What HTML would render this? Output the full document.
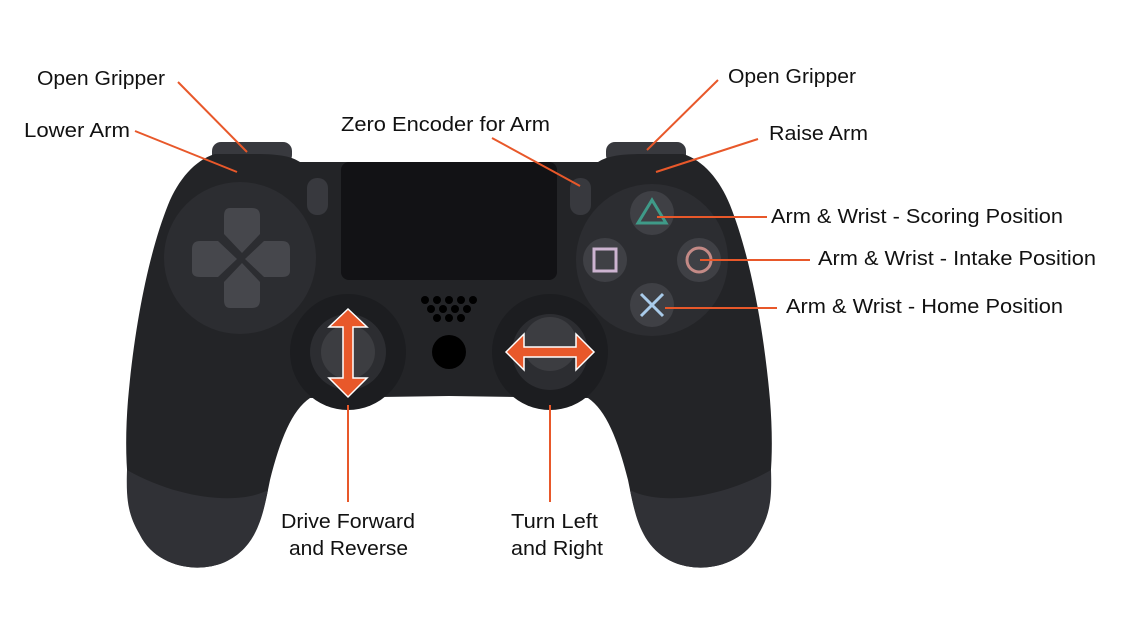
<!DOCTYPE html>
<html><head><style>
html,body{margin:0;padding:0;background:#fff;}
svg{display:block;}
text{font-family:"Liberation Sans",sans-serif;font-size:20px;fill:#111;}
</style></head><body>
<svg width="1128" height="622" viewBox="0 0 1128 622" xmlns="http://www.w3.org/2000/svg">
<defs>
<g id="half">
<rect x="212" y="142" width="80" height="22" rx="9" fill="#38393e"/>
<path d="M449,162 L300,162 C292,157 282,154 255,154 L215,154 C195,160 178,180 168,205 C150,250 135,320 128,400 C124,450 126,500 140,535 C155,565 195,575 225,562 C255,548 262,520 270,480 C280,440 292,410 310,398 L449,396 Z" fill="#232427"/>
<path d="M127,470 C126,500 128,515 140,535 C155,565 195,575 225,562 C255,548 262,520 268,490 C240,505 180,500 127,470 Z" fill="#303136"/>
<rect x="307" y="178" width="21" height="37" rx="10" fill="#38393e"/>
</g>
</defs>
<use href="#half"/>
<use href="#half" transform="translate(898,0) scale(-1,1)"/>
<rect x="341" y="162" width="216" height="118" rx="8" fill="#121215"/>
<circle cx="240" cy="258" r="76" fill="#2c2d31"/>
<g fill="#46474c">
<path d="M230,208 h22 q8,0 8,8 v18 l-18,19 l-18,-19 v-18 q0,-8 6,-8z"/>
<path d="M230,308 h22 q8,0 8,-8 v-18 l-18,-19 l-18,19 v18 q0,8 6,8z"/>
<path d="M192,249 v22 q0,6 8,6 h18 l19,-18 l-19,-18 h-18 q-8,0 -8,8z"/>
<path d="M290,249 v22 q0,6 -8,6 h-18 l-19,-18 l19,-18 h18 q8,0 8,8z"/>
</g>
<circle cx="652" cy="260" r="76" fill="#2c2d31"/>
<g fill="#3f4045">
<circle cx="652" cy="213" r="22"/><circle cx="605" cy="260" r="22"/>
<circle cx="699" cy="260" r="22"/><circle cx="652" cy="305" r="22"/>
</g>
<polygon points="652,200 666,223 638,223" fill="none" stroke="#3f9a88" stroke-width="3"/>
<rect x="594" y="249" width="22" height="22" fill="none" stroke="#cdb4d1" stroke-width="3"/>
<circle cx="699" cy="260" r="12" fill="none" stroke="#c48a86" stroke-width="3"/>
<path d="M641,294 L663,316 M663,294 L641,316" stroke="#a9cbea" stroke-width="3"/>
<circle cx="348" cy="352" r="58" fill="#1c1d20"/><circle cx="348" cy="352" r="38" fill="#2c2d31"/><circle cx="348" cy="352" r="27" fill="#3c3d41"/>
<circle cx="550" cy="352" r="58" fill="#1c1d20"/><circle cx="550" cy="352" r="38" fill="#2c2d31"/><circle cx="550" cy="344" r="27" fill="#3c3d41"/>
<g fill="#000">
<circle cx="425" cy="300" r="4"/><circle cx="437" cy="300" r="4"/><circle cx="449" cy="300" r="4"/><circle cx="461" cy="300" r="4"/><circle cx="473" cy="300" r="4"/>
<circle cx="431" cy="309" r="4"/><circle cx="443" cy="309" r="4"/><circle cx="455" cy="309" r="4"/><circle cx="467" cy="309" r="4"/>
<circle cx="437" cy="318" r="4"/><circle cx="449" cy="318" r="4"/><circle cx="461" cy="318" r="4"/>
<circle cx="449" cy="352" r="17"/>
</g>
<polygon points="348,309 367,327 353,327 353,378 367,378 348,397 329,378 343,378 343,327 329,327" fill="#e8582a" stroke="#fff" stroke-width="1.5"/>
<polygon points="506,352 524,334 524,347 576,347 576,334 594,352 576,370 576,357 524,357 524,370" fill="#e8582a" stroke="#fff" stroke-width="1.5"/>
<g stroke="#e8582a" stroke-width="2">
<line x1="178" y1="82" x2="247" y2="152"/>
<line x1="135" y1="131" x2="237" y2="172"/>
<line x1="492" y1="138" x2="580" y2="186"/>
<line x1="718" y1="80" x2="647" y2="150"/>
<line x1="758" y1="139" x2="656" y2="172"/>
<line x1="657" y1="217" x2="767" y2="217"/>
<line x1="700" y1="260" x2="810" y2="260"/>
<line x1="665" y1="308" x2="777" y2="308"/>
<line x1="348" y1="405" x2="348" y2="502"/>
<line x1="550" y1="405" x2="550" y2="502"/>
</g>
<g>
<text x="37" y="85" textLength="128" lengthAdjust="spacingAndGlyphs">Open Gripper</text>
<text x="24" y="137" textLength="106" lengthAdjust="spacingAndGlyphs">Lower Arm</text>
<text x="341" y="131" textLength="209" lengthAdjust="spacingAndGlyphs">Zero Encoder for Arm</text>
<text x="728" y="83" textLength="128" lengthAdjust="spacingAndGlyphs">Open Gripper</text>
<text x="769" y="140" textLength="99" lengthAdjust="spacingAndGlyphs">Raise Arm</text>
<text x="771" y="223" textLength="292" lengthAdjust="spacingAndGlyphs">Arm &amp; Wrist - Scoring Position</text>
<text x="818" y="265" textLength="278" lengthAdjust="spacingAndGlyphs">Arm &amp; Wrist - Intake Position</text>
<text x="786" y="313" textLength="277" lengthAdjust="spacingAndGlyphs">Arm &amp; Wrist - Home Position</text>
<text x="281" y="528" textLength="134" lengthAdjust="spacingAndGlyphs">Drive Forward</text>
<text x="289" y="555" textLength="119" lengthAdjust="spacingAndGlyphs">and Reverse</text>
<text x="511" y="528" textLength="87" lengthAdjust="spacingAndGlyphs">Turn Left</text>
<text x="511" y="555" textLength="92" lengthAdjust="spacingAndGlyphs">and Right</text>
</g>
</svg>
</body></html>
